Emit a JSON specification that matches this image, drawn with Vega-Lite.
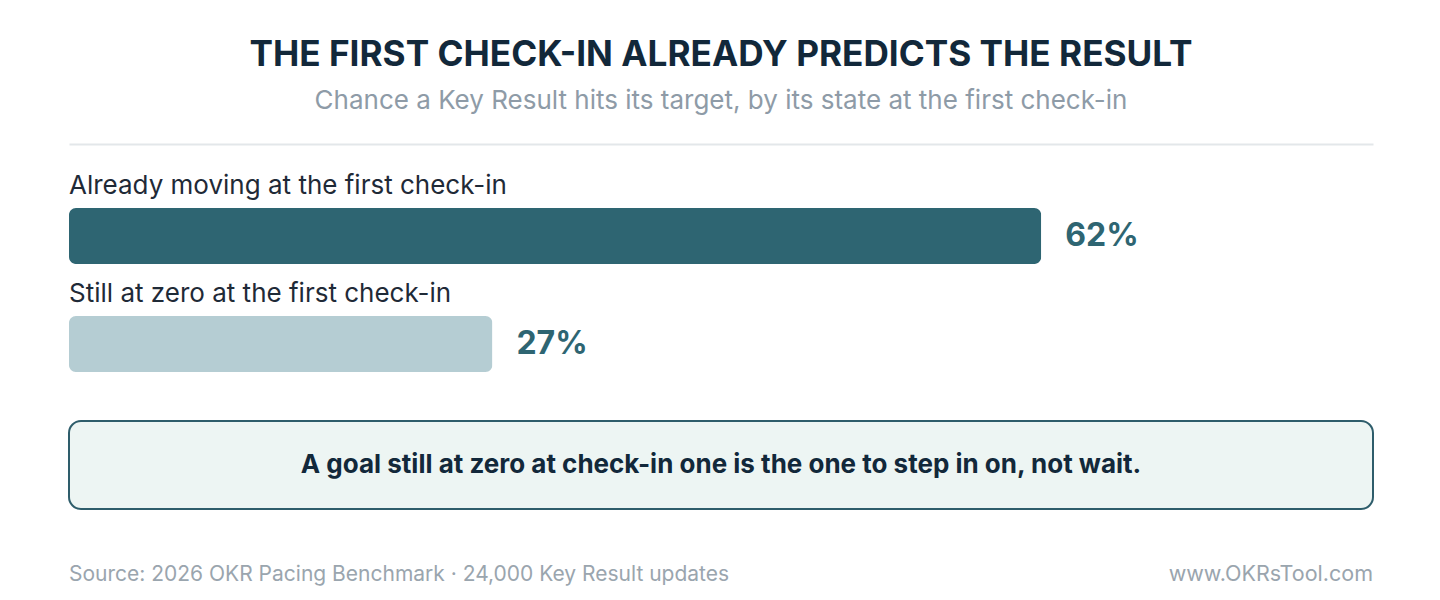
{
  "$schema": "https://vega.github.io/schema/vega-lite/v6.json",
  "padding": {"left": 68, "right": 68, "top": 37, "bottom": 0},
  "background": "white",
  "spacing": 22,
  "title": {
    "text": "THE FIRST CHECK-IN ALREADY PREDICTS THE RESULT",
    "subtitle": "Chance a Key Result hits its target, by its state at the first check-in",
    "anchor": "middle",
    "font": "Inter",
    "fontSize": 35.2,
    "fontWeight": 700,
    "color": "#12283a",
    "subtitleFont": "Inter",
    "subtitleFontSize": 26,
    "subtitleFontWeight": 400,
    "subtitleColor": "#8e9ba7",
    "subtitlePadding": 15,
    "offset": 30
  },
  "config": {
    "view": {"stroke": null},
    "font": "Inter"
  },
  "vconcat": [
    {
      "width": 1304,
      "height": 254,
      "data": {
        "values": [
          {"state": "Already moving at the first check-in", "pct": 62, "label": "62%"},
          {"state": "Still at zero at the first check-in", "pct": 27, "label": "27%"}
        ]
      },
      "encoding": {
        "y": {
          "field": "state",
          "type": "nominal",
          "sort": null,
          "axis": null,
          "scale": {"paddingInner": 0, "paddingOuter": 0.176, "align": 1}
        }
      },
      "layer": [
        {
          "mark": {"type": "bar", "size": 56, "cornerRadius": 7},
          "encoding": {
            "x": {
              "field": "pct",
              "type": "quantitative",
              "scale": {"domain": [0, 83.16], "nice": false},
              "axis": {
                "orient": "top",
                "domain": true,
                "domainColor": "#e3e7ea",
                "domainWidth": 2,
                "ticks": false,
                "labels": false,
                "grid": false,
                "title": null
              }
            },
            "color": {
              "field": "state",
              "type": "nominal",
              "sort": null,
              "scale": {"range": ["#2e6572", "#b5cdd3"]},
              "legend": null
            }
          }
        },
        {
          "mark": {"type": "text", "align": "left", "baseline": "middle", "dy": -50, "fontSize": 26, "color": "#1f2a37", "font": "Inter"},
          "encoding": {
            "x": {"datum": 0, "type": "quantitative"},
            "text": {"field": "state"}
          }
        },
        {
          "mark": {"type": "text", "align": "left", "baseline": "middle", "dx": 24, "fontSize": 32, "fontWeight": "bold", "color": "#2e6572", "font": "Inter"},
          "encoding": {
            "x": {"field": "pct", "type": "quantitative"},
            "text": {"field": "label"}
          }
        }
      ]
    },
    {
      "width": 1304,
      "height": 88,
      "view": {"fill": "#edf5f3", "stroke": "#2e5d6b", "strokeWidth": 2, "cornerRadius": 12},
      "data": {"values": [{"msg": "A goal still at zero at check-in one is the one to step in on, not wait."}]},
      "mark": {"type": "text", "align": "center", "baseline": "middle", "fontSize": 26, "fontWeight": "bold", "color": "#12283a", "font": "Inter"},
      "encoding": {"text": {"field": "msg"}}
    },
    {
      "width": 1304,
      "height": 86,
      "data": {
        "values": [
          {"side": "left", "note": "Source: 2026 OKR Pacing Benchmark · 24,000 Key Result updates"},
          {"side": "right", "note": "www.OKRsTool.com"}
        ]
      },
      "encoding": {
        "x": {
          "field": "side",
          "type": "nominal",
          "scale": {"type": "point", "padding": 0, "domain": ["left", "right"]},
          "axis": null
        },
        "text": {"field": "note"}
      },
      "layer": [
        {
          "transform": [{"filter": "datum.side === 'left'"}],
          "mark": {"type": "text", "align": "left", "baseline": "middle", "fontSize": 21, "color": "#9aa5ae", "font": "Inter"}
        },
        {
          "transform": [{"filter": "datum.side === 'right'"}],
          "mark": {"type": "text", "align": "right", "baseline": "middle", "fontSize": 21.5, "color": "#9aa5ae", "font": "Inter"}
        }
      ]
    }
  ]
}
